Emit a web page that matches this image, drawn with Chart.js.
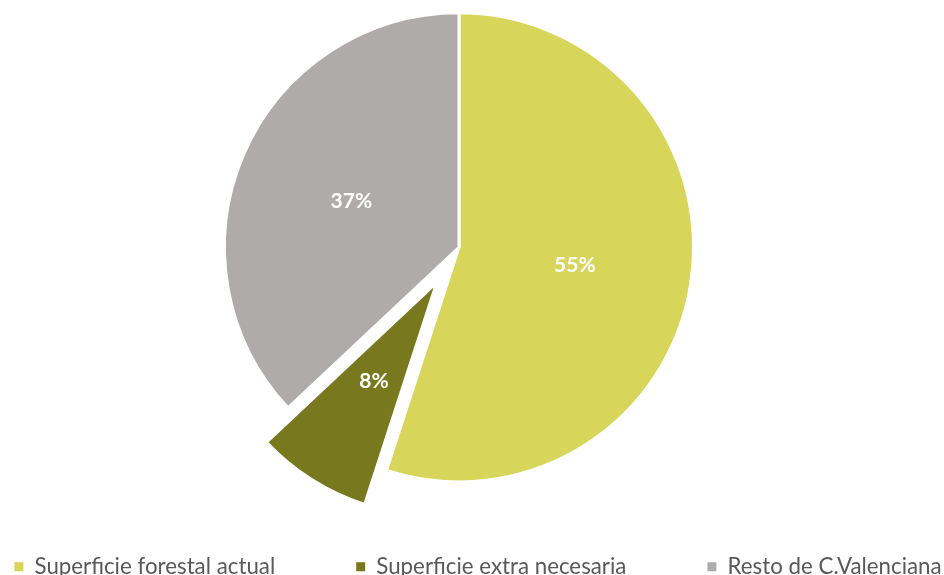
<!DOCTYPE html>
<html>
<head>
<meta charset="utf-8">
<script src="https://cdn.jsdelivr.net/npm/chart.js@4"></script>
<style>
  html, body { margin: 0; padding: 0; background: #fff; overflow: hidden; width: 944px; height: 575px; }
  #wrap { position: absolute; left: -122px; top: 0; }
</style>
</head>
<body>
<div id="wrap"><canvas id="pieChart" width="1200" height="588"></canvas></div>
<script>
const labels = ["Superficie forestal actual", "Superficie extra necesaria", "Resto de C.Valenciana"];
const values = [55, 8, 37];
const percentLabels = ["55%", "8%", "37%"];

const RADIUS = 234.5;

// white % labels in the middle of each slice
const sliceLabels = {
  id: "sliceLabels",
  beforeDatasetsDraw(chart) {
    // keep the pulled-out slice the same size and angle as the rest
    chart.getDatasetMeta(0).data.forEach(function (arc) {
      const shift = (arc.options.offset || 0) / 4;
      if (shift) {
        const fix = 1 - Math.sin(Math.min(Math.PI, arc.circumference));
        const grow = shift * fix;
        arc.outerRadius = RADIUS - grow - 1;
        const widen = grow / (2 * Math.PI * (arc.outerRadius + grow));
        arc.startAngle -= widen;
        arc.endAngle += widen;
      }
    });
  },
  afterDatasetsDraw(chart) {
    const ctx = chart.ctx;
    ctx.save();
    ctx.fillStyle = "#ffffff";
    ctx.font = "bold 21px Lato";
    ctx.textAlign = "center";
    ctx.textBaseline = "middle";
    chart.getDatasetMeta(0).data.forEach(function (arc, i) {
      const mid = (arc.startAngle + arc.endAngle) / 2;
      const dist = RADIUS / 2 + (arc.options.offset || 0) / 4;
      ctx.fillText(percentLabels[i], arc.x + Math.cos(mid) * dist, arc.y + Math.sin(mid) * dist);
    });
    ctx.restore();
  },
};

const ctx = document.getElementById("pieChart").getContext("2d");
new Chart(ctx, {
  type: "pie",
  data: {
    labels: labels,
    datasets: [
      {
        data: values,
        backgroundColor: ["#d7d55a", "#78781e", "#aeabaa"],
        borderColor: "#ffffff",
        borderWidth: 3,
        offset: [0, 166, 0],
        hoverOffset: 0,
      },
    ],
  },
  options: {
    responsive: false,
    animation: false,
    radius: RADIUS,
    layout: { padding: { top: 20 } },
    plugins: {
      tooltip: { enabled: false },
      title: {
        display: true,
        position: "right",
        fullSize: false,
        text: " ",
        font: { size: 10 },
        padding: { top: 0, bottom: 26 },
      },
      legend: {
        position: "bottom",
        labels: {
          boxWidth: 9,
          boxHeight: 9,
          padding: 81,
          color: "#595959",
          font: { family: "Lato", size: 22.3 },
          generateLabels: function (chart) {
            return Chart.overrides.pie.plugins.legend.labels
              .generateLabels(chart)
              .map(function (item) {
                item.lineWidth = 0;
                return item;
              });
          },
        },
      },
    },
  },
  plugins: [sliceLabels],
});
</script>
</body>
</html>
